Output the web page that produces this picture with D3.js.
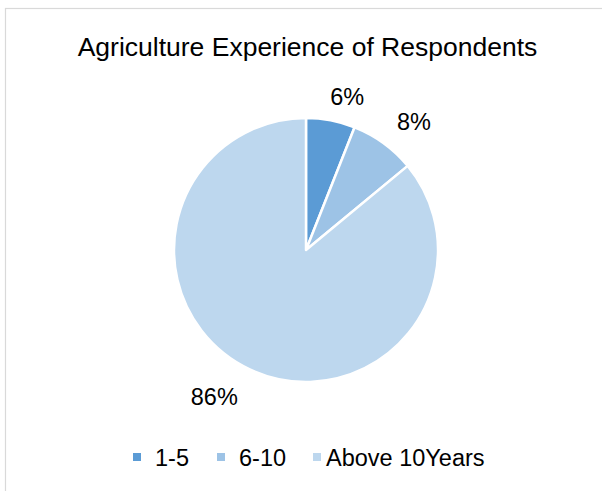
<!DOCTYPE html>
<html><head><meta charset="utf-8">
<script src="https://cdn.jsdelivr.net/npm/d3@7"></script>
<style>html,body{margin:0;padding:0;background:#fff;overflow:hidden}</style>
</head><body>
<script>
const categories = ["1-5", "6-10", "Above 10Years"];
const values = [6, 8, 86];
const labels = ["6%", "8%", "86%"];
const colors = ["#5B9BD5", "#9DC3E6", "#BDD7EE"];
const title = "Agriculture Experience of Respondents";

const W = 602, H = 491;
const svg = d3.select("body").append("svg").attr("width", W).attr("height", H);
const font = "Arial, 'Liberation Sans', sans-serif";

svg.append("rect").attr("x", 5.5).attr("y", 8.5).attr("width", 620).attr("height", 500)
  .attr("fill", "#fff").attr("stroke", "#d9d9d9").attr("stroke-width", 1.2);

svg.append("text").attr("x", 307.5).attr("y", 56).attr("text-anchor", "middle")
  .attr("font-family", font).attr("font-size", 26.5).attr("fill", "#000").text(title);

const cx = 306, cy = 250, r = 132;
const pie = d3.pie().sort(null).value(d => d)(values);
const arc = d3.arc().innerRadius(0).outerRadius(r);
const g = svg.append("g").attr("transform", `translate(${cx},${cy})`);
g.selectAll("path").data(pie).enter().append("path")
  .attr("d", arc).attr("fill", (d, i) => colors[i])
  .attr("stroke", "#fff").attr("stroke-width", 2.5).attr("stroke-linejoin", "round");

// data labels placed outside the arcs (best-fit style nudges)
const labelRadii = [r + 24, r + 26, r + 34];
const labelNudge = [[12, 0], [15, 0], [-21, -3]];
g.selectAll("text.lbl").data(pie).enter().append("text").attr("class", "lbl")
  .attr("transform", (d, i) => {
    const a = (d.startAngle + d.endAngle) / 2;
    const rr = labelRadii[i];
    return `translate(${Math.sin(a) * rr + labelNudge[i][0]},${-Math.cos(a) * rr + labelNudge[i][1]})`;
  })
  .attr("text-anchor", "middle").attr("dy", "0.35em")
  .attr("font-family", font).attr("font-size", 23.5).attr("fill", "#000")
  .text((d, i) => labels[i]);

// legend
const legX = [133, 217, 313];
const legend = svg.append("g");
categories.forEach((c, i) => {
  legend.append("rect").attr("x", legX[i]).attr("y", 453).attr("width", 8).attr("height", 8)
    .attr("fill", colors[i]);
  legend.append("text").attr("x", legX[i] + (i === 2 ? 13 : 22)).attr("y", 465.5)
    .attr("font-family", font).attr("font-size", 23.5).attr("fill", "#000").text(c);
});
</script>
</body></html>
